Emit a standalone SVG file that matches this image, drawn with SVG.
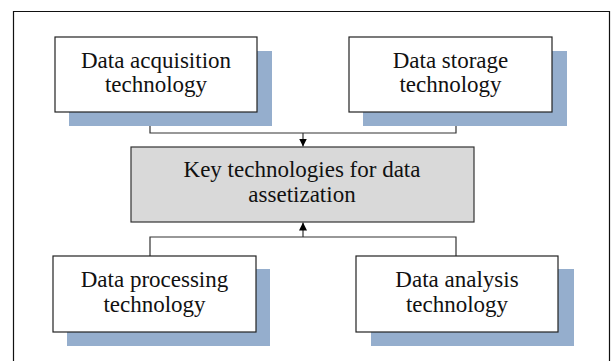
<svg xmlns="http://www.w3.org/2000/svg" width="612" height="361" viewBox="0 0 612 361">
<style>
.shadow{fill:#95AECD;stroke:none}
.box{fill:#ffffff;stroke:#222;stroke-width:1.2}
.core{fill:#D9D9D9;stroke:#333;stroke-width:1.2}
.lbl{font-family:"Liberation Serif","Times New Roman",serif;font-size:23px;fill:#111;text-anchor:middle}
.conn{fill:none;stroke:#333;stroke-width:1.2}
</style>
<defs>
<marker id="arr" markerWidth="10" markerHeight="10" refX="8" refY="4.5" orient="auto" markerUnits="userSpaceOnUse">
<path d="M0,0.5 L8,4.5 L0,8.5 Z" fill="#000"/>
</marker>
</defs>
<rect x="0" y="0" width="612" height="361" fill="#fff"/>
<path d="M13.5,361 L13.5,11.5 L609.5,11.5 L609.5,361" fill="none" stroke="#111" stroke-width="1.2"/>
<g id="connectors">
<path class="conn" d="M150,112 V133 H456 V112"/>
<path class="conn" d="M303,133 V146.5" marker-end="url(#arr)"/>
<path class="conn" d="M150,256 V237 H456 V256"/>
<path class="conn" d="M303,237 V222.5" marker-end="url(#arr)"/>
</g>
<g id="acquisition">
<rect class="shadow" x="69" y="51" width="203" height="75"/>
<rect class="box" x="55" y="37" width="202" height="75"/>
<text class="lbl" x="156" y="67.5">Data acquisition</text>
<text class="lbl" x="156" y="92">technology</text>
</g>
<g id="storage">
<rect class="shadow" x="363" y="51" width="204" height="75"/>
<rect class="box" x="349" y="37" width="203" height="75"/>
<text class="lbl" x="450.5" y="67.5">Data storage</text>
<text class="lbl" x="450.5" y="92">technology</text>
</g>
<g id="key">
<rect class="core" x="131" y="147" width="343" height="75"/>
<text class="lbl" x="302" y="177">Key technologies for data</text>
<text class="lbl" x="302" y="201.5">assetization</text>
</g>
<g id="processing">
<rect class="shadow" x="67" y="269" width="203" height="77"/>
<rect class="box" x="53" y="256" width="203" height="76"/>
<text class="lbl" x="154.5" y="287">Data processing</text>
<text class="lbl" x="154.5" y="311.5">technology</text>
</g>
<g id="analysis">
<rect class="shadow" x="371" y="269" width="203" height="77"/>
<rect class="box" x="356" y="256" width="202" height="76"/>
<text class="lbl" x="457" y="287">Data analysis</text>
<text class="lbl" x="457" y="311.5">technology</text>
</g>
</svg>
